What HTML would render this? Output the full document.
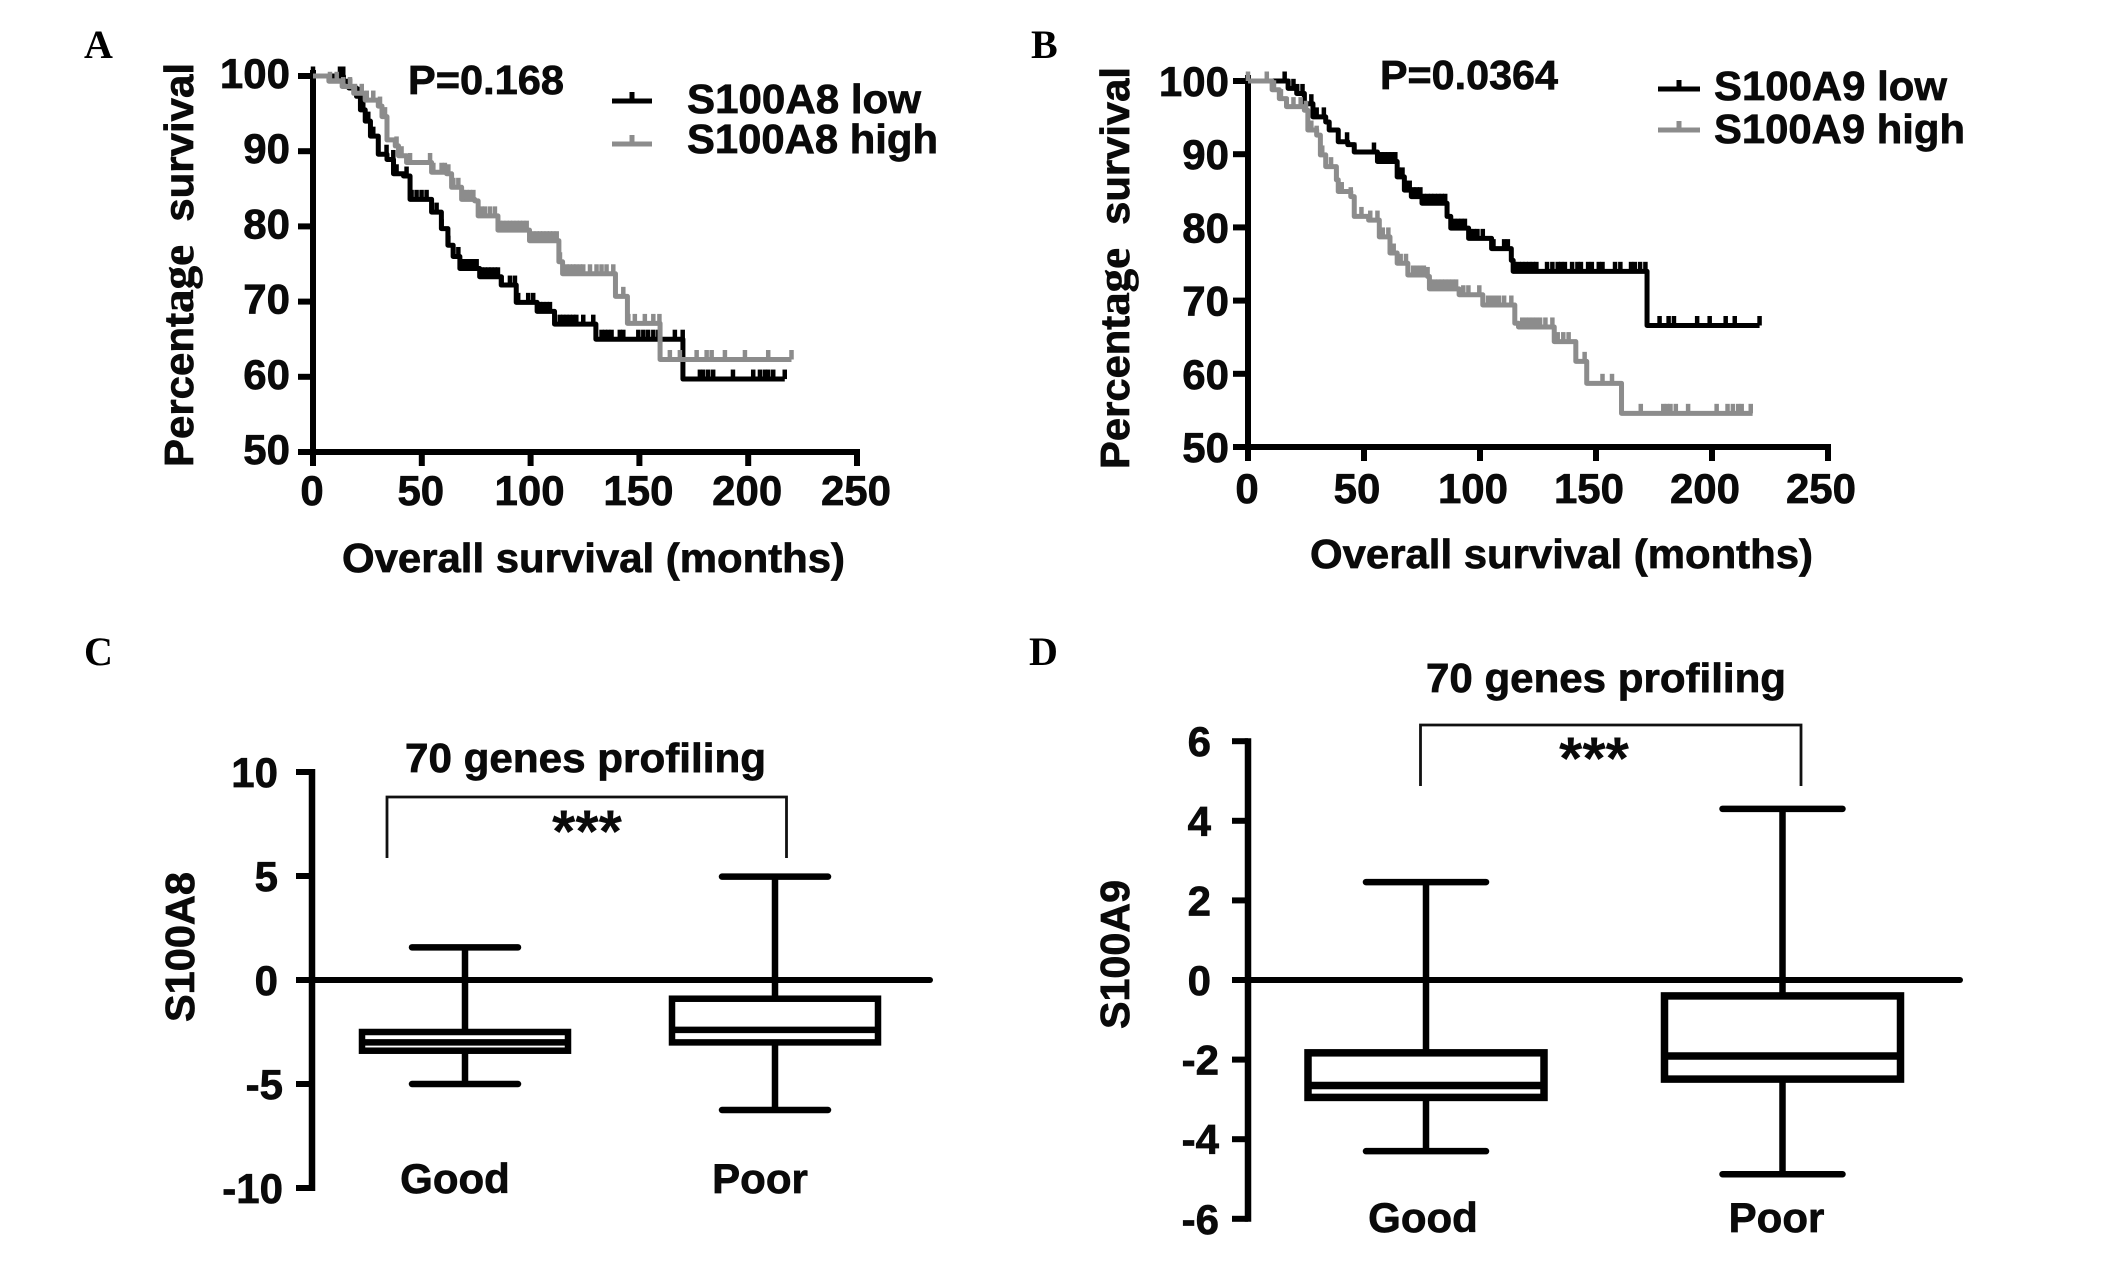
<!DOCTYPE html>
<html lang="en">
<head>
<meta charset="utf-8">
<title>S100A8 and S100A9 survival and 70-gene profiling</title>
<style>
html,body{margin:0;padding:0;background:#fff;}
svg{display:block;}
text{font-family:"Liberation Sans",sans-serif;font-weight:bold;fill:#0a0a0a;stroke:#0a0a0a;stroke-width:.7px;}
.letter{font-family:"Liberation Serif",serif;font-size:40px;fill:#000;stroke:none;}
.t{font-size:41px;}
.tick{font-size:42px;}
.stars{font-size:60px;stroke:none;}
.age{font-family:"Liberation Serif",serif;font-size:46px;}
</style>
</head>
<body>
<svg id="fig" xmlns="http://www.w3.org/2000/svg" width="2126" height="1271" viewBox="0 0 2126 1271">
  <rect width="2126" height="1271" fill="#fff"/>

  <text class="letter" x="84" y="58">A</text>
  <text class="letter" x="1031" y="58">B</text>
  <text class="letter" x="84" y="665">C</text>
  <text class="letter" x="1029" y="665">D</text>

  <g id="panelA">
    <text class="t" transform="translate(193 467) rotate(-90)" textLength="404" lengthAdjust="spacingAndGlyphs" xml:space="preserve">Percent<tspan class="age">age</tspan>  survival</text>
    <text class="t" x="342" y="572" textLength="503" lengthAdjust="spacingAndGlyphs">Overall survival (months)</text>
    <text class="t" x="408" y="94" textLength="156" lengthAdjust="spacingAndGlyphs">P=0.168</text>
    <g>
      <g>
        <path d="M612 101H652M632 101V92" stroke="#000" stroke-width="5" fill="none"/>
        <text class="t" x="687" y="113" textLength="234" lengthAdjust="spacingAndGlyphs">S100A8 low</text>
      </g>
      <g>
        <path d="M612 144H652M632 144V135" stroke="#8c8c8c" stroke-width="5" fill="none"/>
        <text class="t" x="687" y="153" textLength="251" lengthAdjust="spacingAndGlyphs">S100A8 high</text>
      </g>
    </g>
  </g>

  <g id="panelB">
    <text class="t" transform="translate(1129 469) rotate(-90)" textLength="402" lengthAdjust="spacingAndGlyphs" xml:space="preserve">Percent<tspan class="age">age</tspan>  survival</text>
    <text class="t" x="1310" y="568" textLength="503" lengthAdjust="spacingAndGlyphs">Overall survival (months)</text>
    <text class="t" x="1380" y="89" textLength="178" lengthAdjust="spacingAndGlyphs">P=0.0364</text>
    <g>
      <g>
        <path d="M1658 89H1700M1679 89V80" stroke="#000" stroke-width="5" fill="none"/>
        <text class="t" x="1714" y="100" textLength="233" lengthAdjust="spacingAndGlyphs">S100A9 low</text>
      </g>
      <g>
        <path d="M1658 130H1700M1679 130V121" stroke="#8c8c8c" stroke-width="5" fill="none"/>
        <text class="t" x="1714" y="143" textLength="251" lengthAdjust="spacingAndGlyphs">S100A9 high</text>
      </g>
    </g>
  </g>

  <g id="panelC">
    <text class="t" x="405" y="772" textLength="361" lengthAdjust="spacingAndGlyphs">70 genes profiling</text>
    <text class="t" transform="translate(194 1022) rotate(-90)" textLength="150" lengthAdjust="spacingAndGlyphs">S100A8</text>
    <path d="M387 858V797H786.5V858" fill="none" stroke="#111" stroke-width="2.8"/>
    <text class="stars" x="587" y="852" text-anchor="middle">***</text>
  </g>

  <g id="panelD">
    <text class="t" x="1426" y="692" textLength="360" lengthAdjust="spacingAndGlyphs">70 genes profiling</text>
    <text class="t" transform="translate(1129 1029) rotate(-90)" textLength="149" lengthAdjust="spacingAndGlyphs">S100A9</text>
    <path d="M1420.5 786V725H1801V786" fill="none" stroke="#111" stroke-width="2.8"/>
    <text class="stars" x="1594" y="779" text-anchor="middle">***</text>
  </g>
</svg>

<script>
// ---------- Panel A data ----------
const aXTicks = [0, 50, 100, 150, 200, 250];
const aYTicks = [50, 60, 70, 80, 90, 100];
const aLowMonths = [0, 12, 14, 16.5, 20, 21.8, 24, 26.4, 30, 34, 37, 41.6, 44.6, 50.7, 54.5, 59, 62, 64.4, 67.5, 76.6, 86.5, 93.4, 103, 111, 130, 170, 216.8];
const aLowPct = [100, 100, 99.3, 98.4, 97.3, 95.5, 94, 92, 89.6, 88.9, 87, 86.7, 83.6, 83.6, 81.9, 79.7, 77.5, 76, 74.4, 73.3, 72.2, 69.9, 68.7, 67, 65, 59.7, 59.7];
const aLowCensor = [0, 12.4, 13.9, 17, 20.8, 23.1, 25.4, 27.7, 30, 33.8, 36.9, 38.4, 43, 45.3, 47.6, 49.9, 52.2, 54.5, 56.8, 59.1, 62.2, 64.5, 66.8, 69, 70.6, 72.1, 73.7, 75.2, 77.5, 79, 80.6, 82, 83.6, 85, 86.7, 90.5, 92.8, 94.3, 98.9, 101.2, 104.3, 105.8, 107.4, 108.9, 111.2, 113.5, 115, 116.5, 118, 119.6, 121, 124.2, 128.8, 132.6, 134.2, 135.7, 137.2, 141, 142.6, 149.5, 151.8, 154, 156.4, 158.7, 166.3, 169.9, 177.8, 179.3, 181.6, 183.9, 193, 202.3, 205.4, 207.7, 209.2, 211.5, 216.8];
const aHighMonths = [0, 7.3, 13.4, 18.7, 24, 30, 31.7, 34, 37.8, 39.3, 43, 54.5, 61.4, 63.7, 68.3, 74.3, 75.9, 85, 99.5, 113, 114.7, 139, 144.5, 159.5, 219.9];
const aHighPct = [100, 99.3, 98.6, 97.7, 96.8, 96, 94.6, 91.5, 90.7, 89.4, 88.5, 87.2, 87, 85.2, 83.6, 83.4, 81.4, 79.5, 78.1, 75.3, 73.7, 70.7, 67.1, 62.3, 62.3];
const aHighCensor = [7.8, 10.9, 13.9, 17, 19.3, 22.4, 24.7, 27.7, 30.8, 33.1, 38.4, 40.7, 44.6, 53.8, 55.3, 59.1, 60.6, 62.2, 64.5, 66.8, 69, 70.6, 72.1, 73.7, 76, 77.5, 79, 81.3, 83.6, 85.9, 87.4, 89, 90.5, 92, 93.6, 95.1, 96.6, 98.2, 101.2, 102.8, 104.3, 105.8, 107.4, 108.9, 110.4, 112, 113.5, 116.5, 118, 119.6, 121, 122.7, 124.2, 127.3, 130.3, 132.6, 134.9, 138, 142.6, 144.9, 147.9, 152.5, 156.4, 159.2, 164, 168.6, 176.3, 180.9, 183.2, 189.3, 198.5, 209.2, 219.9];

// ---------- Panel B data ----------
const bXTicks = [0, 50, 100, 150, 200, 250];
const bYTicks = [50, 60, 70, 80, 90, 100];
const bLowMonths = [0, 15.8, 17.3, 21, 24.3, 28, 33.5, 35, 38.9, 43, 45.8, 55.8, 64.3, 67.4, 70.4, 75, 85.8, 87.4, 95.1, 105, 113.5, 114.3, 172, 220.5];
const bLowPct = [100, 100, 99, 98.3, 96.9, 95.1, 94.4, 93.3, 91.7, 91.3, 90.3, 89, 86.9, 85.1, 84.2, 83.3, 81.5, 79.9, 78.5, 77.1, 75.5, 74, 66.6, 66.6];
const bLowCensor = [15.8, 17.3, 19.6, 21.2, 23.5, 27.3, 29.6, 32.7, 35, 38.9, 42.7, 45.8, 54.3, 55.8, 57.4, 58.9, 60.5, 62, 63.5, 65, 66.6, 68.1, 69.7, 71.2, 72.7, 74.3, 75.8, 77.4, 78.9, 80.4, 82, 83.5, 85, 87.4, 88.9, 90.5, 92, 93.5, 95.8, 97.4, 98.9, 101.2, 105.8, 110.4, 112, 115, 116.6, 118.2, 119.7, 121.2, 122.8, 124.3, 128.9, 131.2, 133.5, 135, 136.6, 139.7, 142, 143.5, 146.6, 148.2, 151.2, 152.8, 158.2, 160.5, 165.1, 166.7, 169, 171.3, 177.4, 181.3, 183.6, 193.6, 199, 205.9, 209.8, 220.5];
const bHighMonths = [0, 8, 10.4, 13.5, 16.6, 24.3, 25.8, 29.6, 31.2, 33.5, 38.1, 38.9, 44.3, 45.8, 52, 56.6, 61.2, 64.3, 68.9, 77.4, 78.2, 91, 101.2, 115, 116.6, 132, 141.3, 146, 161, 217.5];
const bHighPct = [100, 100, 98.8, 97.6, 96.5, 96, 93.3, 92.6, 89.9, 88.3, 86.5, 84.9, 84.2, 81.5, 81, 78.7, 76.5, 75.1, 73.5, 73.3, 71.6, 70.8, 69.4, 66.9, 66.4, 64.4, 61.7, 58.7, 54.6, 54.6];
const bHighCensor = [0, 8.1, 11.2, 14.2, 16.6, 19.6, 22.7, 25, 27.3, 29.6, 32, 33.5, 35.8, 38.1, 40.4, 44.3, 45.8, 48.9, 52.7, 55.8, 58.1, 60.5, 62.8, 65.8, 68.1, 71.2, 72.7, 74.3, 75.8, 77.4, 78.9, 80.4, 82, 83.5, 85, 86.6, 88.1, 89.7, 92.8, 95, 99.7, 101.2, 103.5, 105, 106.6, 108.2, 110.4, 113.5, 118.2, 119.7, 121.2, 122.8, 124.3, 125.9, 128.2, 131.2, 133.5, 135.9, 138.2, 141.3, 145.1, 152.8, 156.9, 169.3, 179, 180.6, 182.1, 184.4, 189.7, 202, 206.7, 209, 211.3, 212.8, 216.7];

// ---------- Panel C data ----------
const cCategories = ['Good', 'Poor'];
const cYTicks = [-10, -5, 0, 5, 10];
const cWhiskerHigh = [1.57, 4.97];
const cBoxTop = [-2.5, -0.9];
const cMedian = [-3.0, -2.4];
const cBoxBottom = [-3.4, -3.0];
const cWhiskerLow = [-5.0, -6.25];

// ---------- Panel D data ----------
const dCategories = ['Good', 'Poor'];
const dYTicks = [-6, -4, -2, 0, 2, 4, 6];
const dWhiskerHigh = [2.46, 4.3];
const dBoxTop = [-1.83, -0.4];
const dMedian = [-2.65, -1.91];
const dBoxBottom = [-2.95, -2.49];
const dWhiskerLow = [-4.3, -4.88];

const NS = 'http://www.w3.org/2000/svg';
const BLACK = '#000';
const GREY = '#8c8c8c';

function line(parent, x1, y1, x2, y2, color, w, cap) {
  const el = document.createElementNS(NS, 'line');
  el.setAttribute('x1', x1);
  el.setAttribute('y1', y1);
  el.setAttribute('x2', x2);
  el.setAttribute('y2', y2);
  el.setAttribute('stroke', color);
  el.setAttribute('stroke-width', w);
  el.setAttribute('stroke-linecap', cap || 'butt');
  parent.appendChild(el);
  return el;
}
function label(parent, str, x, y, anchor) {
  const el = document.createElementNS(NS, 'text');
  el.setAttribute('class', 'tick');
  el.setAttribute('x', x);
  el.setAttribute('y', y);
  el.setAttribute('text-anchor', anchor);
  el.textContent = str;
  parent.appendChild(el);
  return el;
}
function group(parent) {
  const el = document.createElementNS(NS, 'g');
  parent.appendChild(el);
  return el;
}

function drawCurve(parent, xs, ys, months, pct, censor, color) {
  const g = group(parent);
  
  
  let d = 'M' + xs(months[0]) + ' ' + ys(pct[0]);
  for (let i = 1; i < months.length; i++) {
    d += 'H' + xs(months[i]) + 'V' + ys(pct[i]);
  }
  const path = document.createElementNS(NS, 'path');
  path.setAttribute('d', d);
  path.setAttribute('fill', 'none');
  path.setAttribute('stroke', color);
  path.setAttribute('stroke-width', 5);
  path.setAttribute('stroke-linejoin', 'round');
  
  
  g.appendChild(path);
  censor.forEach(function (m) {
    let p = pct[0];
    for (let i = 0; i < months.length; i++) {
      if (months[i] <= m) p = pct[i];
    }
    const t = line(g, xs(m), ys(p), xs(m), ys(p) - 9.5, color, 4.5);
    
    
  });
}

function drawSurvivalAxes(parent, xs, ys, xTicks, yTicks, yLabelRight, xLabelY, yLabelDrop, xLabelShift) {
  const g = group(parent);
  
  
  const yMax = ys(yTicks[yTicks.length - 1]);
  const yMin = ys(yTicks[0]);
  const xA = xs(xTicks[0]);
  const xB = xs(xTicks[xTicks.length - 1]);
  const ya = line(g, xA, yMax - 6, xA, yMin + 14, BLACK, 6);
  
  
  const xa = line(g, xA - 15, yMin, xB + 3, yMin, BLACK, 6);
  
  
  xTicks.forEach(function (v) {
    const t = line(g, xs(v), yMin, xs(v), yMin + 14, BLACK, 6);
    
    
    const l = label(g, String(v), xs(v) + (v === 0 ? -1 : xLabelShift), xLabelY, 'middle');
    
    
  });
  yTicks.forEach(function (v) {
    const t = line(g, xA - 15, ys(v), xA, ys(v), BLACK, 6);
    
    
    const l = label(g, String(v), yLabelRight, ys(v) + yLabelDrop, 'end');
    
    
  });
}

function drawBoxPanel(parent, cfg, categories, yTicks, wHigh, bTop, med, bBot, wLow) {
  const ys = cfg.ys;
  const g = group(parent);
  
  
  const ya = line(g, cfg.axisX, ys(yTicks[yTicks.length - 1]) - 3, cfg.axisX, ys(yTicks[0]) + 3, BLACK, 6.5);
  
  
  yTicks.forEach(function (v) {
    const t = line(g, cfg.axisX - 16, ys(v), cfg.axisX, ys(v), BLACK, 6);
    
    
    const l = label(g, String(v), cfg.labelRight + (v < 0 ? cfg.negShift : 0), ys(v) + 15, 'end');
    
    
  });
  const z = line(g, cfg.axisX, ys(0), cfg.zeroEnd, ys(0), BLACK, 6, 'round');
  
  
  categories.forEach(function (c, i) {
    const cx = cfg.x0 + i * cfg.step;
    const b = group(parent);
    
    
    const w = line(b, cx, ys(wHigh[i]), cx, ys(wLow[i]), BLACK, 6.5);
    
    
    const c1 = line(b, cx - cfg.cap, ys(wHigh[i]), cx + cfg.cap, ys(wHigh[i]), BLACK, 6.5, 'round');
    
    
    const c2 = line(b, cx - cfg.cap, ys(wLow[i]), cx + cfg.cap, ys(wLow[i]), BLACK, 6.5, 'round');
    
    
    const r = document.createElementNS(NS, 'rect');
    r.setAttribute('x', cx - cfg.half);
    r.setAttribute('y', ys(bTop[i]));
    r.setAttribute('width', cfg.half * 2);
    r.setAttribute('height', ys(bBot[i]) - ys(bTop[i]));
    r.setAttribute('fill', '#fff');
    r.setAttribute('stroke', BLACK);
    r.setAttribute('stroke-width', cfg.boxStroke);
    
    
    b.appendChild(r);
    const m = line(b, cx - cfg.half, ys(med[i]), cx + cfg.half, ys(med[i]), BLACK, cfg.boxStroke);
    
    
    const l = label(b, c, cx + cfg.labelShift[i], cfg.labelY, 'middle');
    
    
  });
}

const xScaleA = function (m) { return 313 + m * 2.176; };
const yScaleA = function (p) { return 76 + (100 - p) * 7.52; };
const xScaleB = function (m) { return 1248 + m * 2.32; };
const yScaleB = function (p) { return 81 + (100 - p) * 7.32; };

const panelA = document.getElementById('panelA');
const panelB = document.getElementById('panelB');
const panelC = document.getElementById('panelC');
const panelD = document.getElementById('panelD');

drawSurvivalAxes(panelA, xScaleA, yScaleA, aXTicks, aYTicks, 290, 505, 12, -1);
drawCurve(panelA, xScaleA, yScaleA, aLowMonths, aLowPct, aLowCensor, BLACK);
drawCurve(panelA, xScaleA, yScaleA, aHighMonths, aHighPct, aHighCensor, GREY);

drawSurvivalAxes(panelB, xScaleB, yScaleB, bXTicks, bYTicks, 1229, 503, 15, -7);
drawCurve(panelB, xScaleB, yScaleB, bLowMonths, bLowPct, bLowCensor, BLACK);
drawCurve(panelB, xScaleB, yScaleB, bHighMonths, bHighPct, bHighCensor, GREY);

drawBoxPanel(panelC, {
  ys: function (v) { return 980 - v * 20.8; },
  axisX: 312, labelRight: 278, negShift: 5, zeroEnd: 930,
  x0: 465, step: 310, half: 103, cap: 53, boxStroke: 6.5,
  labelShift: [-10, -15], labelY: 1193
}, cCategories, cYTicks, cWhiskerHigh, cBoxTop, cMedian, cBoxBottom, cWhiskerLow);

drawBoxPanel(panelD, {
  ys: function (v) { return 980 - v * 39.8; },
  axisX: 1248, labelRight: 1211, negShift: 8, zeroEnd: 1960,
  x0: 1426, step: 356.5, half: 118, cap: 60, boxStroke: 7.5,
  labelShift: [-3, -6], labelY: 1232
}, dCategories, dYTicks, dWhiskerHigh, dBoxTop, dMedian, dBoxBottom, dWhiskerLow);
</script>
</body>
</html>
